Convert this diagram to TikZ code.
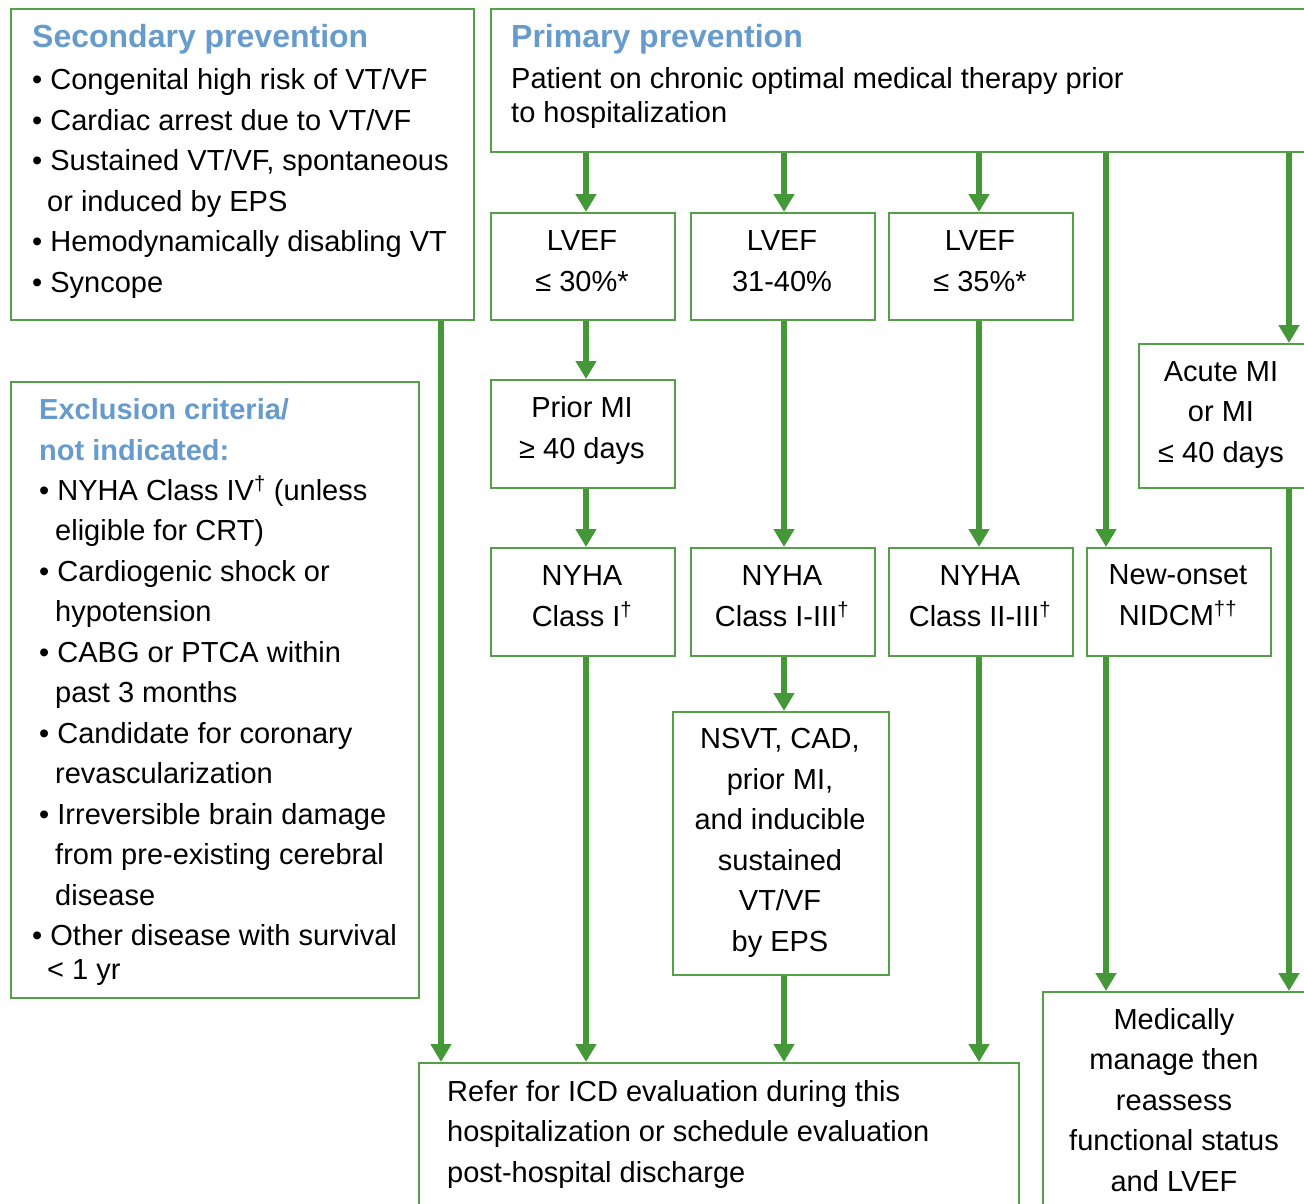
\documentclass[tikz,border=0pt]{standalone}
\usepackage{fontspec}
\setmainfont{Liberation Sans}
\usetikzlibrary{arrows.meta}
\definecolor{garr}{RGB}{69,152,56}
\definecolor{gbox}{RGB}{84,160,70}
\definecolor{tblue}{RGB}{103,155,203}
\newcommand{\dg}{\textsuperscript{†}}
\begin{document}
\begin{tikzpicture}[x=1pt,y=-1pt,
  box/.style={draw=gbox, line width=2.2pt, inner sep=0pt, anchor=north west},
  txt/.style={font=\fontsize{29}{40.5}\selectfont, inner sep=0pt, text=black},
  ttl/.style={font=\fontsize{32}{40}\selectfont\bfseries, inner sep=0pt, text=tblue, anchor=base west},
  ctext/.style={txt, align=center, anchor=base},
  ltext/.style={txt, align=left, anchor=base west},
  arr/.style={draw=garr, line width=6pt, -{Triangle[width=20pt,length=18pt]}}
]
\useasboundingbox (0,0) rectangle (1304,1204);
\clip (0,0) rectangle (1304,1204);

% ---- boxes ----
\node[box, minimum width=463pt, minimum height=311pt] (sec) at (10,8) {};
\node[box, minimum width=830pt, minimum height=143pt] (prim) at (490,8) {};
\node[box, minimum width=184pt, minimum height=107pt] (lvefA) at (490,212) {};
\node[box, minimum width=184pt, minimum height=107pt] (lvefB) at (690,212) {};
\node[box, minimum width=184pt, minimum height=107pt] (lvefC) at (888,212) {};
\node[box, minimum width=184pt, minimum height=108pt] (prior) at (490,379) {};
\node[box, minimum width=180pt, minimum height=144pt] (acute) at (1138,343) {};
\node[box, minimum width=184pt, minimum height=108pt] (nyA) at (490,547) {};
\node[box, minimum width=184pt, minimum height=108pt] (nyB) at (690,547) {};
\node[box, minimum width=184pt, minimum height=108pt] (nyC) at (888,547) {};
\node[box, minimum width=184pt, minimum height=108pt] (newon) at (1086,547) {};
\node[box, minimum width=216pt, minimum height=263pt] (nsvt) at (672,711) {};
\node[box, minimum width=408pt, minimum height=616pt] (excl) at (10,381) {};
\node[box, minimum width=600pt, minimum height=160pt] (refer) at (418,1062) {};
\node[box, minimum width=280pt, minimum height=230pt] (medic) at (1042,991) {};

% ---- texts (each placed by the baseline of its last line) ----
\node[ttl] (secT) at (32,48) {Secondary prevention};
\node[ltext] (secL) at (32,292) {• Congenital high risk of VT/VF\\
  • Cardiac arrest due to VT/VF\\
  • Sustained VT/VF, spontaneous\\
  \hspace*{15pt}or induced by EPS\\
  • Hemodynamically disabling VT\\
  • Syncope};

\node[ttl] (primT) at (511,48) {Primary prevention};
\node[ltext, font=\fontsize{29}{34}\selectfont] (primL) at (511,123)
  {Patient on chronic optimal medical therapy prior\\to hospitalization};

\node[ctext] (lvefAt) at (582,291) {LVEF\\≤ 30\%*};
\node[ctext] (lvefBt) at (782,291) {LVEF\\31-40\%};
\node[ctext] (lvefCt) at (980,291) {LVEF\\≤ 35\%*};
\node[ctext] (priort) at (582,458) {Prior MI\\≥ 40 days};
\node[ctext] (acutet) at (1221,462) {Acute MI\\or MI\\≤ 40 days};
\node[ctext] (nyAt) at (582,626) {NYHA\\Class I\dg};
\node[ctext] (nyBt) at (782,626) {NYHA\\Class I-III\dg};
\node[ctext] (nyCt) at (980,626) {NYHA\\Class II-III\dg};
\node[ctext] (newont) at (1178,625) {New-onset\\NIDCM\textsuperscript{††}};
\node[ctext] (nsvtt) at (780,951) {NSVT, CAD,\\prior MI,\\and inducible\\sustained\\VT/VF\\by EPS};
\node[ltext] (refert) at (447,1182) {Refer for ICD evaluation during this\\
  hospitalization or schedule evaluation\\post-hospital discharge};
\node[ctext] (medict) at (1174,1191) {Medically\\manage then\\reassess\\functional status\\and LVEF};

\node[ttl, font=\fontsize{29}{41}\selectfont\bfseries, align=left] (exclT) at (39,460)
  {Exclusion criteria/\\not indicated:};
\node[ltext] (exclL) at (39,905) {• NYHA Class IV\dg{} (unless\\
  \hspace*{16pt}eligible for CRT)\\
  • Cardiogenic shock or\\
  \hspace*{16pt}hypotension\\
  • CABG or PTCA within\\
  \hspace*{16pt}past 3 months\\
  • Candidate for coronary\\
  \hspace*{16pt}revascularization\\
  • Irreversible brain damage\\
  \hspace*{16pt}from pre-existing cerebral\\
  \hspace*{16pt}disease};
\node[ltext, font=\fontsize{29}{34}\selectfont] (exclL2) at (32,979)
  {• Other disease with survival\\\hspace*{15pt}< 1 yr};

% ---- arrow columns ----
\coordinate (c0) at (441,0);
\coordinate (c1) at (586,0);
\coordinate (c2) at (784,0);
\coordinate (c3) at (979,0);
\coordinate (c4) at (1106,0);
\coordinate (c5) at (1289,0);

% ---- connectors ----
\draw[arr] (prim.south -| c1) -- (lvefA.north -| c1);
\draw[arr] (prim.south -| c2) -- (lvefB.north -| c2);
\draw[arr] (prim.south -| c3) -- (lvefC.north -| c3);
\draw[arr] (prim.south -| c4) -- (newon.north -| c4);
\draw[arr] (prim.south -| c5) -- (acute.north -| c5);
\draw[arr] (lvefA.south -| c1) -- (prior.north -| c1);
\draw[arr] (prior.south -| c1) -- (nyA.north -| c1);
\draw[arr] (lvefB.south -| c2) -- (nyB.north -| c2);
\draw[arr] (lvefC.south -| c3) -- (nyC.north -| c3);
\draw[arr] (nyB.south -| c2) -- (nsvt.north -| c2);
\draw[arr] (sec.south -| c0) -- (refer.north -| c0);
\draw[arr] (nyA.south -| c1) -- (refer.north -| c1);
\draw[arr] (nsvt.south -| c2) -- (refer.north -| c2);
\draw[arr] (nyC.south -| c3) -- (refer.north -| c3);
\draw[arr] (newon.south -| c4) -- (medic.north -| c4);
\draw[arr] (acute.south -| c5) -- (medic.north -| c5);
\end{tikzpicture}
\end{document}
